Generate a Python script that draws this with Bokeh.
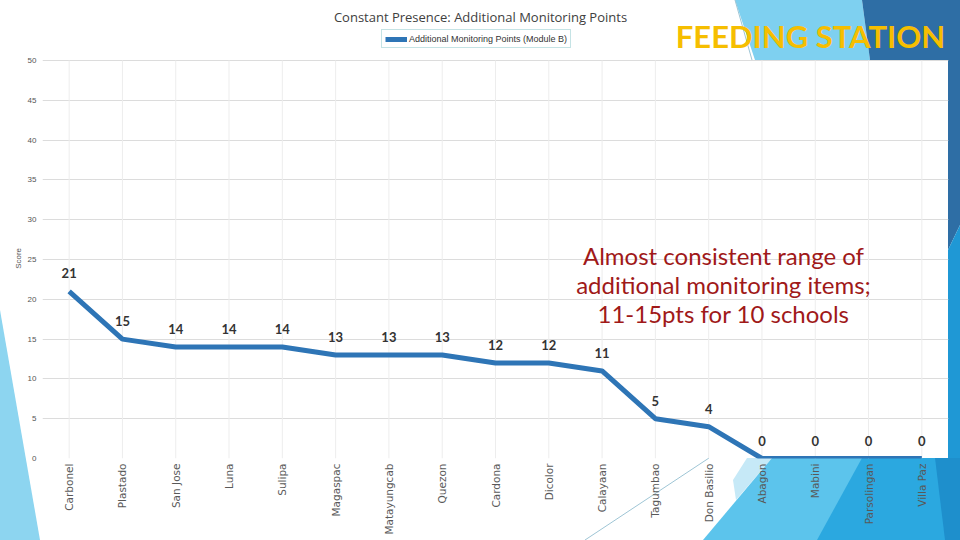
import math
from urllib.parse import quote
from bokeh.plotting import figure
from bokeh.models import FactorRange, Range1d, FixedTicker, Label
from bokeh.core.properties import value
from bokeh.embed import file_html
from bokeh.resources import INLINE

schools = ["Carbonel", "Plastado", "San Jose", "Luna", "Sulipa", "Magaspac",
           "Matayungcab", "Quezon", "Cardona", "Dicolor", "Calayaan", "Tagumbao",
           "Don Basilio", "Abagon", "Mabini", "Parsolingan", "Villa Paz"]
scores = [21, 15, 14, 14, 14, 13, 13, 13, 12, 12, 11, 5, 4, 0, 0, 0, 0]
score_labels = [str(v) for v in scores]
y_ticks = [0, 5, 10, 15, 20, 25, 30, 35, 40, 45, 50]
y_axis_title = "Score"
title_text = "Constant Presence: Additional Monitoring Points"
series_name = "Additional Monitoring Points (Module B)"
banner_text = "FEEDING STATION"
note_text = "Almost consistent range of\nadditional monitoring items;\n11-15pts for 10 schools"

W, H = 960, 540
FL, FR, FB = 42, 948, 458   # frame left / right / bottom in page pixels
PLOT_TOP = 60               # page y of the top value (50)

# decorative background shapes of the slide (page pixels), drawn as a CSS background
decor = [
    ("0,310 40,540 0,540", "#8dd5f0"),
    ("735,0 862,0 870,60 755,60", "#7ed0f0"),
    ("862,0 960,0 960,60 870,60", "#2e6ea5"),
    ("948,60 960,60 960,225 948,250", "#2e6ea5"),
    ("948,250 960,225 960,540 948,540", "#1f98d5"),
    ("747,458 772,458 736,500 733,480", "#c6e9f7"),
    ("772,458 960,458 960,540 703,540", "#5cc4ec"),
    ("862,458 960,458 960,540 817,540", "#2ba8e0"),
    ("935,458 960,458 960,540 945,540", "#1e8fcc"),
]
svg = f'<svg xmlns="http://www.w3.org/2000/svg" width="{W}" height="{H}">'
for pts, col in decor:
    svg += f'<polygon points="{pts}" fill="{col}"/>'
svg += '<line x1="585" y1="540" x2="709" y2="458" stroke="#9ec5d5" stroke-width="1"/>'
svg += '<line x1="735" y1="0" x2="752" y2="60" stroke="#9ec5d5" stroke-width="1"/>'
svg += '</svg>'

ymax = y_ticks[-1]
y_top = ymax * FB / (FB - PLOT_TOP)   # frame reaches the top of the page

p = figure(width=W, height=H, output_backend="svg", toolbar_location=None,
           x_range=FactorRange(factors=schools, range_padding=0),
           y_range=Range1d(0, y_top),
           min_border_left=FL, min_border_right=W - FR, min_border_top=0,
           min_border_bottom=H - FB)
p.styles = {"background-image": f'url("data:image/svg+xml,{quote(svg)}")',
            "background-repeat": "no-repeat", "background-color": "white"}
p.outline_line_color = None
p.background_fill_color = None
p.border_fill_color = None

# grids and axes
p.xgrid.grid_line_color = None
p.segment(x0=schools, y0=0, x1=schools, y1=ymax, line_color="#ededed", line_width=1)
p.ygrid.grid_line_color = "#dcdcdc"
p.yaxis.ticker = FixedTicker(ticks=y_ticks)
p.yaxis.bounds = (0, ymax)
# trailing no-break spaces keep the axis title centred on the 0-50 part of the axis
p.yaxis.axis_label = y_axis_title + "\u00a0" * 26
p.yaxis.axis_label_text_font_size = "8px"
p.yaxis.axis_label_text_font_style = "normal"
p.yaxis.axis_label_text_color = "#555555"
p.yaxis.axis_label_standoff = 2
p.yaxis.major_label_text_font_size = "8px"
p.yaxis.major_label_text_color = "#555555"
p.yaxis.major_label_standoff = 6
for ax in (p.xaxis, p.yaxis):
    ax.axis_line_color = None
    ax.major_tick_line_color = None
    ax.minor_tick_line_color = None
    ax.major_tick_out = 0
    ax.major_tick_in = 0
p.xaxis.major_label_orientation = math.pi / 2
p.xaxis.major_label_text_font = "DejaVu Sans"
p.xaxis.major_label_text_font_size = "10.5px"
p.xaxis.major_label_text_color = "#595959"
p.xaxis.major_label_standoff = 5

# series
p.line(x=schools, y=scores, line_color="#2e75b6", line_width=5, legend_label=series_name)
p.text(x=schools, y=scores, text=score_labels, text_font=value("Lato"), text_font_size="13px",
       text_font_style="bold", text_color="#333333", text_align="center",
       text_baseline="middle", y_offset=-18)

lg = p.legend[0]
lg.location = (381 - FL, FB - 48)
lg.label_text_font_size = "9px"
lg.label_text_color = "#333333"
lg.label_height = 11
lg.glyph_height = 8
lg.glyph_width = 22
lg.label_standoff = 2
lg.padding = 3
lg.margin = 0
lg.spacing = 0
lg.border_line_color = "#8cc8cc"
lg.background_fill_alpha = 1

# texts
p.add_layout(Label(x=480 - FL, y=FB - 16, x_units="screen", y_units="screen", text=title_text,
                   text_align="center", text_baseline="middle", text_font="Open Sans",
                   text_font_size="13px", text_color="#404040"))
p.add_layout(Label(x=810 - FL, y=FB - 35, x_units="screen", y_units="screen", text=banner_text,
                   text_align="center", text_baseline="middle", text_font="Lato",
                   text_font_style="bold", text_font_size="31px", text_color="#f6be00",
                   level="overlay"))
p.add_layout(Label(x=723 - FL, y=FB - 284, x_units="screen", y_units="screen", text=note_text,
                   text_align="center", text_baseline="middle", text_font="Lato",
                   text_font_size="24px", text_color="#a01919", text_line_height=1.0))

open("out.html", "w").write(file_html(p, INLINE))
